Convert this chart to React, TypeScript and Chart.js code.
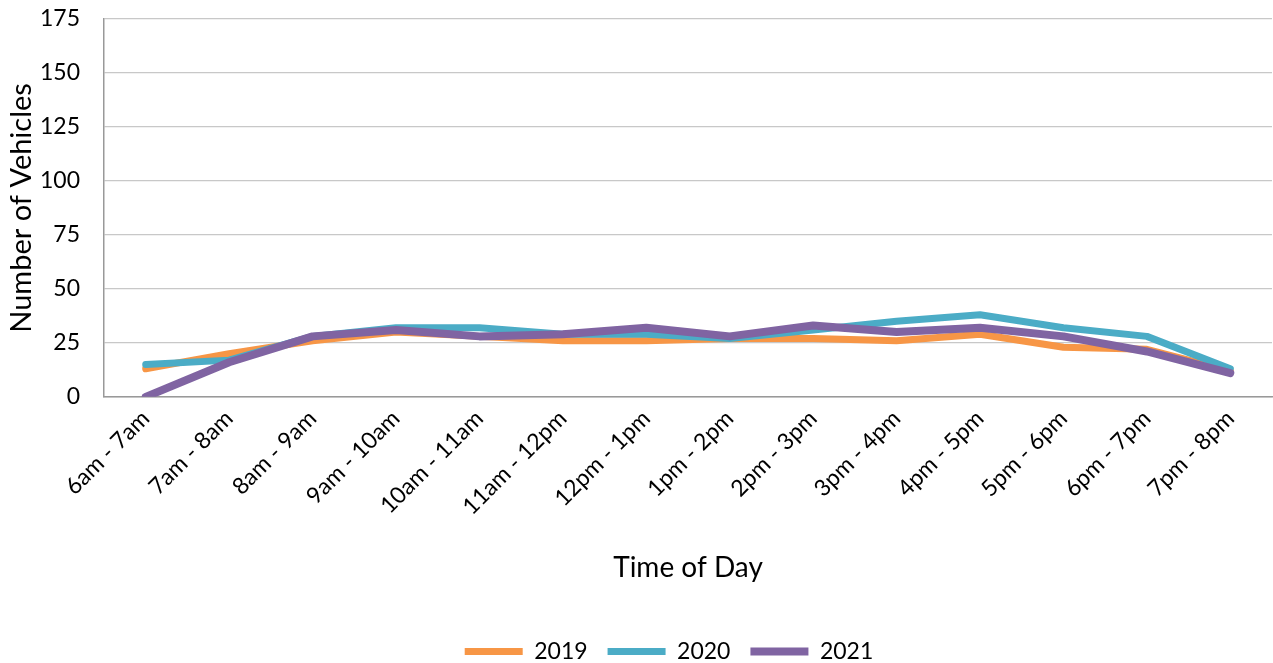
import { useEffect, useRef } from "react";
import { Chart, registerables } from "chart.js";

Chart.register(...registerables);

const timeSlots = [
  "6am - 7am", "7am - 8am", "8am - 9am", "9am - 10am", "10am - 11am", "11am - 12pm", "12pm - 1pm",
  "1pm - 2pm", "2pm - 3pm", "3pm - 4pm", "4pm - 5pm", "5pm - 6pm", "6pm - 7pm", "7pm - 8pm",
];
const vehicles2019 = [13, 20, 26, 30, 28, 26, 26, 27, 27, 26, 29, 23, 22, 12];
const vehicles2020 = [15, 17, 28, 32, 32, 29, 29, 27, 31, 35, 38, 32, 28, 13];
const vehicles2021 = [0, 16, 28, 31, 28, 29, 32, 28, 33, 30, 32, 28, 21, 11];
const yTicks = [0, 25, 50, 75, 100, 125, 150, 175];

const FONT = "Lato, 'Open Sans', sans-serif";

// nudges the bottom legend to the right of the canvas centre
const legendShift = {
  id: "legendShift",
  afterLayout(chart: any) {
    const lg = chart.legend;
    if (lg) {
      lg.left += 33;
      lg.right += 33;
    }
  },
};

export default function App() {
  const canvasRef = useRef<HTMLCanvasElement | null>(null);

  useEffect(() => {
    const canvas = canvasRef.current;
    if (!canvas) return;
    // later years are drawn on top of earlier ones
    const line = (label: string, data: number[], color: string, order: number, width: number) => ({
      label,
      data,
      order,
      borderColor: color,
      backgroundColor: color,
      borderWidth: width,
      borderCapStyle: "round" as const,
      borderJoinStyle: "round" as const,
      pointRadius: 0,
      pointHoverRadius: 0,
      tension: 0,
      fill: false,
    });
    const chart = new Chart(canvas, {
      type: "line",
      data: {
        labels: timeSlots,
        datasets: [
          line("2019", vehicles2019, "#F79646", 2, 7),
          line("2020", vehicles2020, "#4BACC6", 1, 7),
          line("2021", vehicles2021, "#8064A2", 0, 8),
        ],
      },
      plugins: [legendShift],
      options: {
        animation: false,
        responsive: false,
        layout: { padding: { top: 19, right: 1, left: 0, bottom: -10 } },
        plugins: {
          tooltip: { enabled: false },
          legend: {
            position: "bottom",
            labels: {
              usePointStyle: true,
              pointStyle: "line",
              pointStyleWidth: 58,
              boxHeight: 23,
              padding: 20,
              color: "#000",
              font: { family: FONT, size: 23 },
              sort: (a: any, b: any) => a.datasetIndex - b.datasetIndex,
            },
          },
        },
        scales: {
          x: {
            offset: true,
            afterFit: (scale: any) => {
              // rotated labels may hang past the left edge of the plot
              scale.paddingLeft = 0;
              scale.paddingRight = 0;
            },
            grid: { display: false, drawTicks: false },
            border: { display: true, color: "#999", width: 1.5 },
            ticks: {
              color: "#000",
              font: { family: FONT, size: 23 },
              minRotation: 45,
              maxRotation: 45,
              padding: 8,
              autoSkip: false,
            },
            title: {
              display: true,
              text: "Time of Day",
              color: "#000",
              font: { family: FONT, size: 28 },
              padding: { top: 23, bottom: 35 },
            },
          },
          y: {
            min: 0,
            max: 175,
            afterBuildTicks: (scale: any) => {
              scale.ticks = yTicks.map((v) => ({ value: v }));
            },
            afterFit: (scale: any) => {
              scale.width = 104;
              scale.paddingTop = 0;
              scale.paddingBottom = 0;
            },
            grid: { color: "#c8c8c8", lineWidth: 1.2, drawTicks: false },
            border: { display: true, color: "#999", width: 1.5 },
            ticks: {
              color: "#000",
              font: { family: FONT, size: 23 },
              padding: 24,
            },
            title: {
              display: true,
              text: "Number of Vehicles",
              color: "#000",
              font: { family: FONT, size: 29 },
              padding: { top: 4, bottom: 0 },
            },
          },
        },
      },
    });
    return () => chart.destroy();
  }, []);

  return (
    <div style={{ position: "fixed", left: 0, top: 0, width: 1273, height: 663, background: "#fff" }}>
      <canvas ref={canvasRef} width={1273} height={663} />
    </div>
  );
}
